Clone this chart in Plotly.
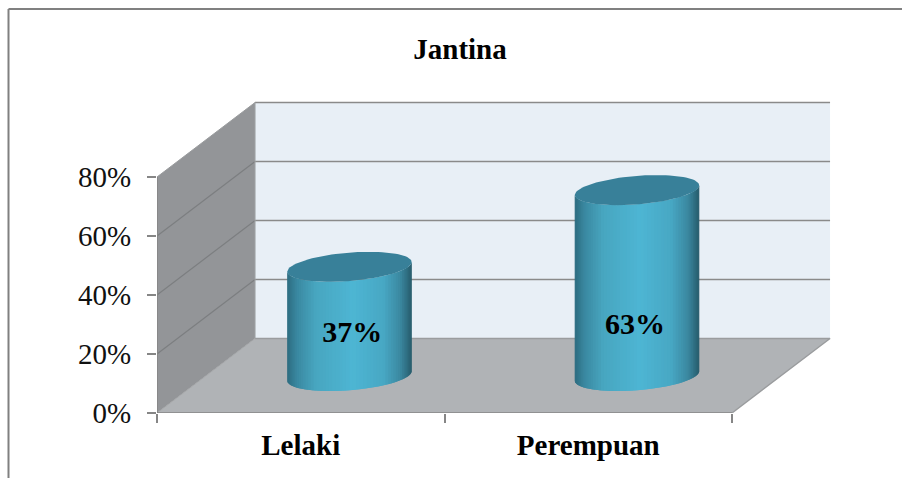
import numpy as np
import plotly.graph_objects as go

categories = ["Lelaki", "Perempuan"]
values = [37, 63]
value_labels = ["37%", "63%"]
label_x = [0.679, 1.663]
label_y = [26.6, 29.3]
y_ticks = [0, 20, 40, 60, 80]
y_ticktext = ["0%", "20%", "40%", "60%", "80%"]
AXIS_MAX = 80

FONT = "Liberation Serif"
DX, DY = 0.341, 25.25       # depth of the 3D box, in axis units
DEPTH_POS = 0.497           # where bars stand in the depth of the floor
UX, VX, VY = 0.205, 0.069, 5.1  # ellipse vectors of the cylinder section

L, T, W, H = 157, 100, 678, 313
XR = W / 287.5
YR = H / 2.95
def px(x): return (x - L) / W
def py(y): return 1 - (y - T) / H

fig = go.Figure()

def poly(xs, ys, color, line=None, lw=0):
    fig.add_trace(go.Scatter(x=list(xs), y=list(ys), mode="lines", fill="toself", fillcolor=color,
                             line=dict(color=line or color, width=lw), hoverinfo="skip",
                             showlegend=False, cliponaxis=False))

def seg(xs, ys, color="#8c8c8c", w=1.5):
    fig.add_trace(go.Scatter(x=list(xs), y=list(ys), mode="lines", line=dict(color=color, width=w),
                             hoverinfo="skip", showlegend=False, cliponaxis=False))

# walls and floor
poly([DX, 2 + DX, 2 + DX, DX, DX], [DY, DY, AXIS_MAX + DY, AXIS_MAX + DY, DY], "#e8eff6")
poly([0, DX, DX, 0, 0], [0, DY, AXIS_MAX + DY, AXIS_MAX, 0], "#939598")
poly([0, 2, 2 + DX, DX, 0], [0, 0, DY, DY, 0], "#b0b3b6")

# gridlines
for v in y_ticks[1:]:
    seg([DX, 2 + DX], [v + DY, v + DY], "#8a8a8a", 1.5)
    if v < AXIS_MAX:
        seg([0, DX], [v, v + DY], "#7c7e80", 1.2)
seg([DX, 2 + DX, 2], [DY, DY, 0], "#9a9c9e", 1.4)
seg([0, DX], [0, DY], "#a3a5a7", 1)
seg([DX, DX], [DY, AXIS_MAX + DY], "#a0a3a6", 1)
seg([0, DX], [AXIS_MAX, AXIS_MAX + DY], "#9a9c9e", 1)

# axis lines
seg([0, 0], [0, AXIS_MAX], "#868686", 1.6)
seg([0, 2], [0, 0], "#868686", 1.6)

# cylinders
stops = [-1, -0.85, -0.55, 0.05, 0.55, 0.82, 1]
reds = [0x2d, 0x3a, 0x48, 0x4e, 0x48, 0x3b, 0x27]
grns = [0x6c, 0x88, 0xa6, 0xb6, 0xa8, 0x88, 0x5c]
blus = [0x80, 0xa0, 0xc0, 0xd4, 0xc4, 0xa0, 0x6c]
t0 = np.arctan2(VX, UX)
ts = np.linspace(t0 + np.pi, t0 + 2 * np.pi, 57)   # left silhouette to right silhouette, via the front
span = np.hypot(UX, VX)

for i, val in enumerate(values):
    cx = i + 0.5 + DEPTH_POS * DX
    cy = DEPTH_POS * DY
    ex = cx + UX * np.cos(ts) + VX * np.sin(ts)
    ey = VY * np.sin(ts)
    for j in range(len(ts) - 1):
        k = min(j + 2, len(ts) - 1)
        xs = np.concatenate([ex[j:k + 1], ex[j:k + 1][::-1]])
        ys = np.concatenate([cy + ey[j:k + 1], cy + val + ey[j:k + 1][::-1]])
        s = ((ex[j] + ex[j + 1]) / 2 - cx) / span
        col = "rgb(%d,%d,%d)" % (np.interp(s, stops, reds), np.interp(s, stops, grns), np.interp(s, stops, blus))
        poly(np.append(xs, xs[0]), np.append(ys, ys[0]), col)
    tt = np.linspace(0, 2 * np.pi, 90)
    poly(cx + UX * np.cos(tt) + VX * np.sin(tt), cy + val + VY * np.sin(tt), "#388099")

# value labels
fig.add_trace(go.Scatter(x=label_x, y=label_y, mode="text", text=value_labels, textposition="middle center",
                         textfont=dict(family=FONT, size=30, color="#000000", weight="bold"),
                         hoverinfo="skip", showlegend=False, cliponaxis=False))

fig.update_layout(
    width=902, height=478,
    margin=dict(l=L, t=T, r=902 - L - W, b=478 - T - H, pad=0),
    paper_bgcolor="#ffffff", plot_bgcolor="#ffffff",
    font=dict(family=FONT, color="#000000"),
    title=dict(text="Jantina", x=px(460), xref="paper", xanchor="center", y=1 - 49 / 478, yanchor="middle",
               font=dict(family=FONT, size=29, color="#000000", weight="bold")),
    xaxis=dict(range=[0, XR], tickmode="array", tickvals=[0.5, 1.5], ticktext=categories, ticks="", showgrid=False,
               zeroline=False, showline=False, ticklabelstandoff=12,
               tickfont=dict(family=FONT, size=29, color="#000000", weight="bold"),
               minor=dict(tickmode="array", tickvals=[0, 1, 2], ticks="outside", ticklen=9, tickwidth=1.6,
                          tickcolor="#868686", showgrid=False)),
    yaxis=dict(range=[0, YR], tickmode="array", tickvals=y_ticks, ticktext=y_ticktext, ticks="outside", ticklen=9,
               tickwidth=1.6, tickcolor="#868686", showgrid=False, zeroline=False, showline=False,
               ticklabelstandoff=10, tickfont=dict(family=FONT, size=29, color="#111111")),
    shapes=[dict(type="line", xref="paper", yref="paper", x0=px(8.5), x1=px(902), y0=py(9), y1=py(9),
                 line=dict(color="#808080", width=2)),
            dict(type="line", xref="paper", yref="paper", x0=px(8.5), x1=px(8.5), y0=py(9), y1=py(478),
                 line=dict(color="#808080", width=2))],
)

fig.write_html("out.html", config=dict(displayModeBar=False),
               post_script="document.body.style.margin='0';")
